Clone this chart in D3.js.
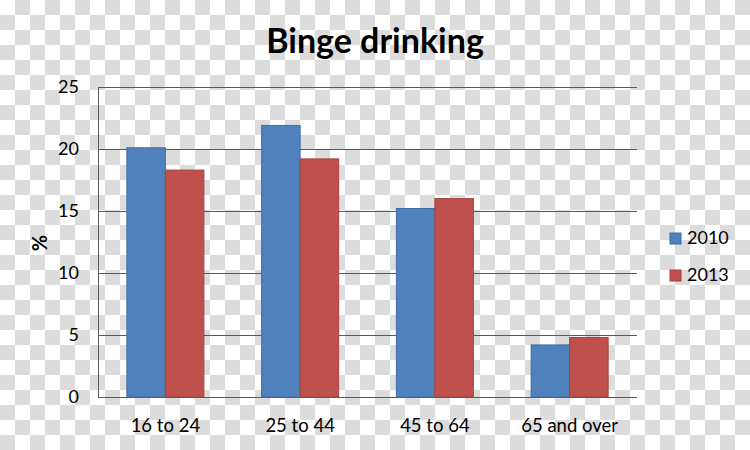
<!DOCTYPE html>
<html>
<head>
<meta charset="utf-8">
<script src="https://cdn.jsdelivr.net/npm/d3@7"></script>
<style>
  html, body { margin: 0; padding: 0; background: #fff; }
  svg { display: block; }
</style>
</head>
<body>
<div id="chart"></div>
<script>
const title = "Binge drinking";
const categories = ["16 to 24", "25 to 44", "45 to 64", "65 and over"];
const seriesNames = ["2010", "2013"];
const values2010 = [20.1, 21.9, 15.2, 4.2];
const values2013 = [18.3, 19.2, 16.0, 4.8];
const yTicks = [0, 5, 10, 15, 20, 25];
const yLabel = "%";
const colors = ["#4F81BD", "#C0504D"];
const strokes = ["#3E6DA6", "#A5403D"];

const W = 750, H = 450;
const m = { left: 98, right: 113, top: 87, bottom: 53 };
const font = "Lato, 'Open Sans', sans-serif";

const svg = d3.select("#chart").append("svg").attr("width", W).attr("height", H);

// transparent-look checkerboard background
const defs = svg.append("defs");
const pat = defs.append("pattern").attr("id", "checker")
  .attr("patternUnits", "userSpaceOnUse").attr("width", 30).attr("height", 30);
pat.append("rect").attr("width", 30).attr("height", 30).attr("fill", "#ffffff");
pat.append("rect").attr("x", 15).attr("y", 0).attr("width", 15).attr("height", 15).attr("fill", "#dcdcdc");
pat.append("rect").attr("x", 0).attr("y", 15).attr("width", 15).attr("height", 15).attr("fill", "#dcdcdc");
svg.append("rect").attr("width", W).attr("height", H).attr("fill", "url(#checker)");

const x0 = d3.scaleBand().domain(categories).range([m.left, W - m.right]).paddingInner(0).paddingOuter(0);
const x1 = d3.scaleBand().domain(seriesNames).range([0, x0.bandwidth()]).paddingInner(0).paddingOuter(0.75);
const y = d3.scaleLinear().domain([0, 25]).range([H - m.bottom, m.top]);

// gridlines
svg.append("g").selectAll("line").data(yTicks).join("line")
  .attr("x1", m.left).attr("x2", W - m.right)
  .attr("y1", d => Math.round(y(d)) + 0.5).attr("y2", d => Math.round(y(d)) + 0.5)
  .attr("stroke", "#595959").attr("stroke-width", 1);

// left axis line
svg.append("line")
  .attr("x1", m.left + 0.5).attr("x2", m.left + 0.5)
  .attr("y1", y(25)).attr("y2", y(0) + 0.5)
  .attr("stroke", "#595959");

// y tick labels
svg.append("g").selectAll("text").data(yTicks).join("text")
  .attr("x", 79).attr("y", d => y(d)).attr("dy", "0.35em")
  .attr("text-anchor", "end").attr("font-family", font).attr("font-size", 18)
  .attr("fill", "#000").text(d => d);

// bars
const series = [values2010, values2013];
const g = svg.append("g");
categories.forEach((c, i) => {
  series.forEach((vals, s) => {
    g.append("rect")
      .attr("x", x0(c) + x1(seriesNames[s]))
      .attr("y", y(vals[i]))
      .attr("width", x1.bandwidth())
      .attr("height", y(0) - y(vals[i]))
      .attr("fill", colors[s])
      .attr("stroke", strokes[s]).attr("stroke-width", 1);
  });
});

// x labels
svg.append("g").selectAll("text").data(categories).join("text")
  .attr("x", d => x0(d) + x0.bandwidth() / 2).attr("y", 432)
  .attr("text-anchor", "middle").attr("font-family", font).attr("font-size", 18.5)
  .attr("fill", "#000").text(d => d);

// title
svg.append("text").attr("x", 375).attr("y", 53)
  .attr("text-anchor", "middle").attr("font-family", font).attr("font-size", 34)
  .attr("font-weight", "bold").attr("fill", "#000").text(title);

// y label
svg.append("text").attr("transform", "translate(47,243) rotate(-90)")
  .attr("text-anchor", "middle").attr("font-family", font).attr("font-size", 20)
  .attr("font-weight", "bold").attr("fill", "#000").text(yLabel);

// legend
const leg = svg.append("g");
seriesNames.forEach((n, i) => {
  const yy = 238 + i * 37;
  leg.append("rect").attr("x", 670).attr("y", yy - 5).attr("width", 11).attr("height", 11)
    .attr("fill", colors[i]).attr("stroke", strokes[i]);
  leg.append("text").attr("x", 687).attr("y", yy).attr("dy", "0.35em")
    .attr("font-family", font).attr("font-size", 18).attr("fill", "#000").text(n);
});
</script>
</body>
</html>
